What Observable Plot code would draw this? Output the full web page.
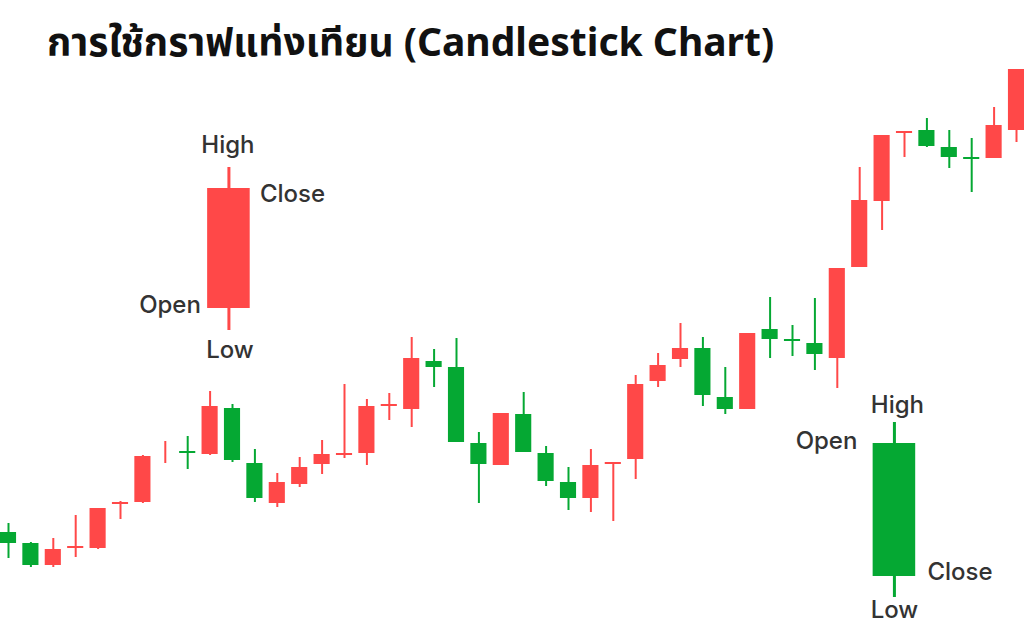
<!DOCTYPE html>
<html>
<head>
<meta charset="utf-8">
<script src="https://cdn.jsdelivr.net/npm/d3@7"></script>
<script src="https://cdn.jsdelivr.net/npm/@observablehq/plot@0.6"></script>
<style>
  html, body { margin: 0; padding: 0; background: #fff; }
  #wrap { position: relative; width: 1024px; height: 636px; overflow: hidden; }
  #title { position: absolute; left: 47px; top: 14px; font-family: "Noto Sans", "Noto Sans Thai", "Open Sans", sans-serif; font-weight: 700; font-size: 39px; color: #111; white-space: nowrap; z-index: 2; }
  svg { position: absolute; left: 0; top: 0; }
</style>
</head>
<body>
<div id="wrap">
  <div id="title">การใช้กราฟแท่งเทียน (Candlestick Chart)</div>
</div>
<script>
// Price series (arbitrary price units), one entry per candle
const opens  = [104, 93, 71, 88, 88,132,134,186,185,182,228,173,133,152,172,181,183,230,227,275,269,193,171,222,183,154,138,172,177,255,277,288,239,227,307,297,293,278,369,435,503,506,489,479,478,506];
const closes = [ 93, 71, 87, 90,128,134,180,186,183,230,176,138,154,169,182,183,230,232,278,269,194,172,223,184,155,138,171,174,252,271,288,241,227,303,297,295,282,368,436,501,505,490,479,477,511,567];
const highs  = [113, 94, 98,121,128,135,181,195,200,245,232,187,163,179,196,252,237,243,299,287,298,204,223,244,190,169,187,174,261,283,313,299,269,303,339,311,338,368,469,501,505,518,506,498,529,567];
const lows   = [ 78, 69, 69, 79, 87,117,133,173,167,181,174,134,129,149,162,178,171,216,209,249,194,133,171,184,150,126,124,115,157,249,269,230,222,227,278,280,266,248,369,406,479,489,468,444,478,494];

// Explanatory example candles (placed at fractional candle positions)
const exampleNames = ["rising", "falling"];
const examplePos   = [9.84, 39.55];
const exampleOpen  = [328, 193];
const exampleClose = [448, 60];
const exampleHigh  = [469, 214];
const exampleLow   = [306, 39];

const labelTexts = ["High", "Close", "Open", "Low", "High", "Open", "Close", "Low"];
const labelField = ["high", "close", "open", "low", "high", "open", "close", "low"];
const labelOf    = [0, 0, 0, 0, 1, 1, 1, 1];

const RED = "#ff4848";
const GREEN = "#05a833";

const candles = opens.map((o, i) => ({
  i, open: o, close: closes[i], high: highs[i], low: lows[i]
}));
const examples = exampleNames.map((n, k) => ({
  i: examplePos[k], open: exampleOpen[k], close: exampleClose[k], high: exampleHigh[k], low: exampleLow[k]
}));
const labels = labelTexts.map((t, k) => {
  const e = examples[labelOf[k]];
  return { text: t, i: e.i, price: e[labelField[k]], key: k };
});

// label placement (style only)
const lblStyle = [
  {dx: -1, dy: -22, anchor: "middle"},
  {dx: 31, dy: 6, anchor: "start"},
  {dx: -28, dy: -3, anchor: "end"},
  {dx: 1, dy: 20, anchor: "middle"},
  {dx: 3, dy: -17, anchor: "middle"},
  {dx: -37, dy: -2, anchor: "end"},
  {dx: 33, dy: -4, anchor: "start"},
  {dx: 0, dy: 13, anchor: "middle"}
];

const color = d => d.close >= d.open ? RED : GREEN;
const bodyHalf = 0.36;
const exHalf = 0.95;

const marks = [
  Plot.ruleX(candles, {x: "i", y1: "low", y2: "high", stroke: color, strokeWidth: 2}),
  Plot.rect(candles.filter(d => d.open !== d.close), {
    x1: d => d.i - bodyHalf, x2: d => d.i + bodyHalf,
    y1: d => Math.min(d.open, d.close), y2: d => Math.max(d.open, d.close),
    fill: color
  }),
  Plot.ruleX(examples, {x: "i", y1: "low", y2: "high", stroke: color, strokeWidth: 3}),
  Plot.rect(examples, {
    x1: d => d.i - exHalf, x2: d => d.i + exHalf,
    y1: d => Math.min(d.open, d.close), y2: d => Math.max(d.open, d.close),
    fill: color
  })
];
labels.forEach((l, k) => {
  const s = lblStyle[k];
  marks.push(Plot.text([l], {
    x: "i", y: "price", text: "text",
    dx: s.dx, dy: s.dy, textAnchor: s.anchor,
    fontSize: 24, fontWeight: 500, fill: "#333",
    fontFamily: "Inter, 'Open Sans', sans-serif"
  }));
});

const chart = Plot.plot({
  width: 1024,
  height: 636,
  marginLeft: 8, marginRight: 8, marginTop: 0, marginBottom: 0,
  x: {domain: [0, 45], axis: null},
  y: {domain: [0, 636], axis: null},
  style: {background: "transparent", overflow: "visible"},
  marks
});
document.getElementById("wrap").appendChild(chart);
</script>
</body>
</html>
